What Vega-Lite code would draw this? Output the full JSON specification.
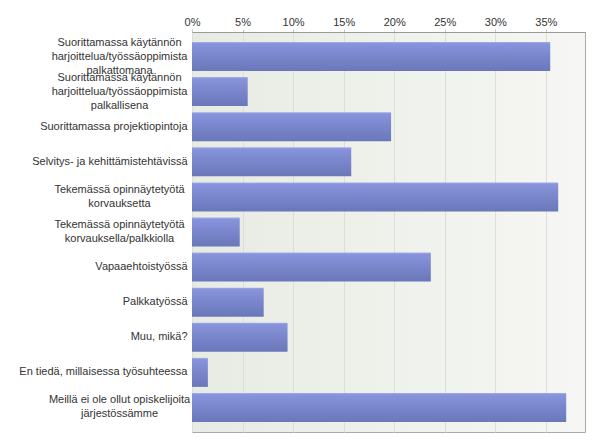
{
  "$schema": "https://vega.github.io/schema/vega-lite/v6.json",
  "width": 393,
  "height": 400,
  "autosize": {"type": "none"},
  "padding": {"left": 192, "top": 32, "right": 15, "bottom": 15},
  "background": "white",
  "config": {
    "font": "Liberation Sans",
    "view": {
      "stroke": "#a8aaa6",
      "strokeWidth": 1,
      "fill": {
        "gradient": "linear",
        "x1": 0, "y1": 0, "x2": 1, "y2": 0,
        "stops": [
          {"offset": 0, "color": "#e8ebe3"},
          {"offset": 1, "color": "#f6f7f4"}
        ]
      }
    }
  },
  "data": {
    "values": [
      {"label": "Suorittamassa käytännön|harjoittelua/työssäoppimista|palkattomana", "value": 0.3543},
      {"label": "Suorittamassa käytännön|harjoittelua/työssäoppimista|palkallisena", "value": 0.0551},
      {"label": "Suorittamassa projektiopintoja", "value": 0.1969},
      {"label": "Selvitys- ja kehittämistehtävissä", "value": 0.1575},
      {"label": "Tekemässä opinnäytetyötä|korvauksetta", "value": 0.3622},
      {"label": "Tekemässä opinnäytetyötä|korvauksella/palkkiolla", "value": 0.0472},
      {"label": "Vapaaehtoistyössä", "value": 0.2362},
      {"label": "Palkkatyössä", "value": 0.0709},
      {"label": "Muu, mikä?", "value": 0.0945},
      {"label": "En tiedä, millaisessa työsuhteessa", "value": 0.0157},
      {"label": "Meillä ei ole ollut opiskelijoita|järjestössämme", "value": 0.3701}
    ]
  },
  "mark": {
    "type": "bar",
    "fill": {
      "gradient": "linear",
      "x1": 0, "y1": 0, "x2": 0, "y2": 1,
      "stops": [
        {"offset": 0, "color": "#a3acec"},
        {"offset": 0.06, "color": "#8793db"},
        {"offset": 1, "color": "#6a77b9"}
      ]
    }
  },
  "encoding": {
    "y": {
      "field": "label",
      "type": "nominal",
      "sort": null,
      "scale": {"paddingInner": 0.173, "paddingOuter": 0.285},
      "axis": {
        "title": null,
        "domain": false,
        "ticks": false,
        "labelFontSize": 11,
        "labelColor": "#333333",
        "labelLimit": 0,
        "labelLineHeight": 14,
        "labelExpr": "split(datum.label, '|')",
        "labelAlign": {
          "condition": {"test": "indexof(datum.label, '|') >= 0", "value": "center"},
          "value": "right"
        },
        "labelPadding": {
          "condition": {"test": "indexof(datum.label, '|') >= 0", "value": 73},
          "value": 5
        },
        "labelOffset": {
          "condition": [
            {"test": "length(split(datum.label, '|')) == 3", "value": -14},
            {"test": "length(split(datum.label, '|')) == 2", "value": -7}
          ],
          "value": 0
        }
      }
    },
    "x": {
      "field": "value",
      "type": "quantitative",
      "scale": {"domain": [0, 0.3887], "nice": false},
      "axis": {
        "orient": "top",
        "title": null,
        "format": ".0%",
        "values": [0, 0.05, 0.1, 0.15, 0.2, 0.25, 0.3, 0.35],
        "domainColor": "#9a9a9a",
        "tickColor": "#c8c8c8",
        "tickSize": 3,
        "labelPadding": 2,
        "labelFontSize": 11,
        "labelColor": "#333333",
        "gridColor": "#dcdedb",
        "labelFlush": false
      }
    }
  }
}
